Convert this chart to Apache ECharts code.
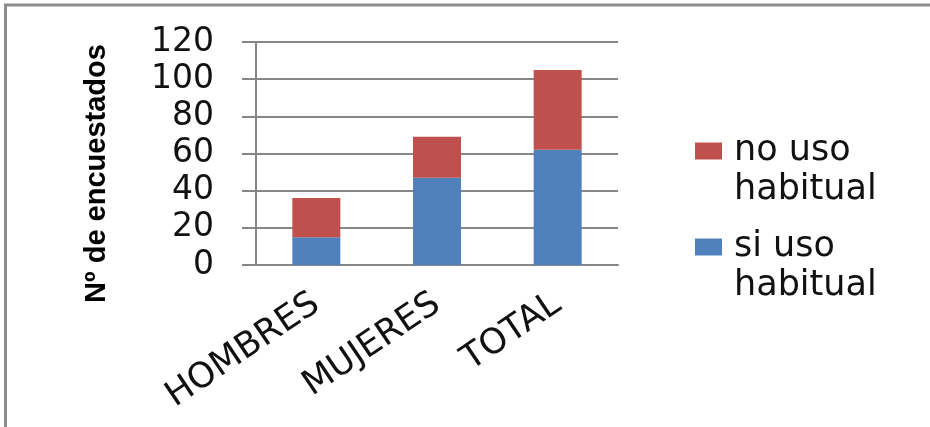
<!DOCTYPE html>
<html>
<head>
<meta charset="utf-8">
<script src="https://cdn.jsdelivr.net/npm/echarts@6/dist/echarts.min.js"></script>
<style>
  html, body { margin: 0; padding: 0; background: #fff; }
  #chart { width: 930px; height: 427px; }
</style>
</head>
<body>
<div id="chart"></div>
<script>
// datos
const categorias = ['HOMBRES', 'MUJERES', 'TOTAL'];
const siUso = [15, 47, 62];
const noUso = [21, 22, 43];
const nombres = ['si uso habitual', 'no uso habitual'];

const chart = echarts.init(document.getElementById('chart'));
const gris = '#868686';
const fuente = 'DejaVu Sans';
const linea = 39; // alto de línea de la leyenda

// una leyenda por serie; la línea vacía de arriba deja el icono a la altura de la primera línea
function leyenda(nombre, centroY) {
  return {
    orient: 'vertical',
    left: 690,
    top: centroY - linea * 1.5,
    icon: 'rect',
    itemWidth: 27,
    itemHeight: 17,
    data: [nombre],
    formatter: n => '\n' + n.replace(' habitual', '\nhabitual'),
    textStyle: { fontSize: 35, fontFamily: fuente, color: '#111', lineHeight: linea, padding: [0, 0, 0, 7] }
  };
}

const option = {
  animation: false,
  textStyle: { fontFamily: fuente },
  graphic: [
    { type: 'line', shape: { x1: 5.5, y1: 5, x2: 5.5, y2: 427 }, style: { stroke: '#8c8c8c', lineWidth: 3 } },
    { type: 'line', shape: { x1: 4, y1: 5, x2: 930, y2: 5 }, style: { stroke: '#8c8c8c', lineWidth: 3 } }
  ],
  grid: { left: 256, right: 312, top: 42, bottom: 162 },
  legend: [leyenda(nombres[1], 146), leyenda(nombres[0], 242)],
  xAxis: {
    type: 'category',
    data: categorias,
    axisLine: { lineStyle: { color: gris, width: 2 } },
    axisTick: { length: 11, lineStyle: { color: gris, width: 2 } },
    axisLabel: { rotate: 34, fontSize: 35, color: '#111', margin: 36, fontFamily: fuente }
  },
  yAxis: {
    type: 'value',
    min: 0,
    max: 120,
    interval: 20,
    name: 'Nº de encuestados',
    nameLocation: 'middle',
    nameGap: 145,
    nameRotate: 90,
    nameTextStyle: { fontSize: 29, fontWeight: 'bold', color: '#000', fontFamily: 'Liberation Sans', padding: [0, 40, 0, 0] },
    axisLine: { show: true, lineStyle: { color: gris, width: 2 } },
    axisTick: { show: true, length: 14, lineStyle: { color: gris, width: 2 } },
    splitLine: { lineStyle: { color: gris, width: 2 } },
    axisLabel: { fontSize: 33, color: '#111', margin: 42, fontFamily: fuente }
  },
  series: [
    {
      name: nombres[0],
      type: 'bar',
      stack: 'total',
      data: siUso,
      barWidth: 48,
      itemStyle: { color: '#4F81BD' }
    },
    {
      name: nombres[1],
      type: 'bar',
      stack: 'total',
      data: noUso,
      barWidth: 48,
      itemStyle: { color: '#C0504D' }
    }
  ]
};

chart.setOption(option);
</script>
</body>
</html>
